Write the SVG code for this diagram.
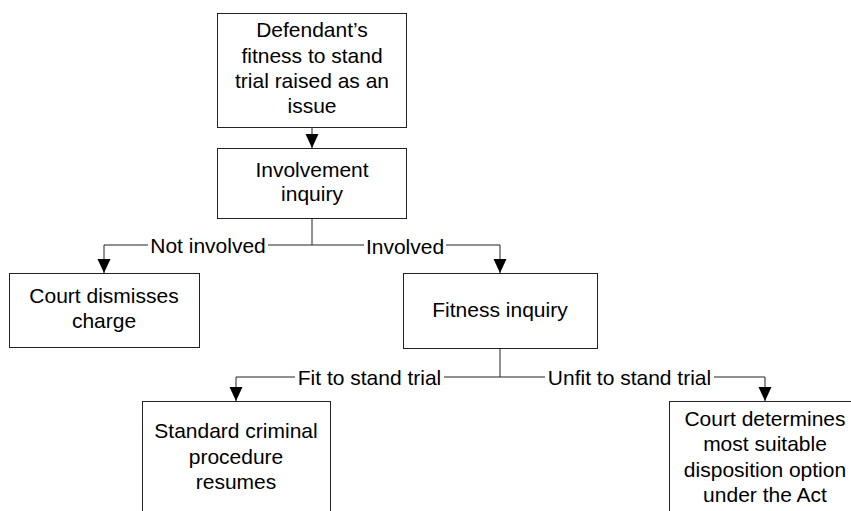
<svg xmlns="http://www.w3.org/2000/svg" width="851" height="511" viewBox="0 0 851 511">
<defs>
<style>
.box{fill:#fff;stroke:#222;stroke-width:1}
.t{font-family:"Liberation Sans",Arial,sans-serif;font-size:21px;fill:#000;text-anchor:middle}
.ln{fill:none;stroke:#222;stroke-width:1}
.lb{fill:#fff;stroke:none}
</style>
<marker id="ah" markerWidth="14" markerHeight="14" refX="14" refY="7" orient="auto" markerUnits="userSpaceOnUse" viewBox="0 0 14 14">
<path d="M0,0.5 L14,7 L0,13.5 Z" fill="#000"/>
</marker>
</defs>
<rect width="851" height="511" fill="#fff"/>
<g id="connectors">
<path class="ln" d="M312,127 V148" marker-end="url(#ah)"/>
<path class="ln" d="M312,218 V245 H104 V273" marker-end="url(#ah)"/>
<path class="ln" d="M312,245 H500 V273" marker-end="url(#ah)"/>
<path class="ln" d="M500,348 V377 H236 V401" marker-end="url(#ah)"/>
<path class="ln" d="M500,377 H765 V401" marker-end="url(#ah)"/>
<rect class="lb" x="148" y="236" width="120" height="20"/>
<text class="t" x="208" y="252.5">Not involved</text>
<rect class="lb" x="364" y="237" width="82" height="20"/>
<text class="t" x="405" y="253.5">Involved</text>
<rect class="lb" x="295" y="368" width="149" height="20"/>
<text class="t" x="369.5" y="384.5">Fit to stand trial</text>
<rect class="lb" x="545" y="368" width="169" height="20"/>
<text class="t" x="629.5" y="384.5">Unfit to stand trial</text>
</g>
<g id="n1">
<rect class="box" x="217.5" y="13.5" width="189" height="114"/>
<text class="t" x="312" y="37">Defendant’s</text>
<text class="t" x="312" y="63">fitness to stand</text>
<text class="t" x="312" y="88">trial raised as an</text>
<text class="t" x="312" y="113">issue</text>
</g>
<g id="n2">
<rect class="box" x="217.5" y="148.5" width="189" height="70"/>
<text class="t" x="312" y="177">Involvement</text>
<text class="t" x="312" y="201">inquiry</text>
</g>
<g id="n3">
<rect class="box" x="9.5" y="273.5" width="190" height="74"/>
<text class="t" x="104" y="303">Court dismisses</text>
<text class="t" x="104" y="328">charge</text>
</g>
<g id="n4">
<rect class="box" x="403.5" y="273.5" width="194" height="75"/>
<text class="t" x="500" y="317">Fitness inquiry</text>
</g>
<g id="n5">
<rect class="box" x="142.5" y="401.5" width="188" height="120"/>
<text class="t" x="236" y="438">Standard criminal</text>
<text class="t" x="236" y="464">procedure</text>
<text class="t" x="236" y="489">resumes</text>
</g>
<g id="n6">
<rect class="box" x="669.5" y="401.5" width="192" height="120"/>
<text class="t" x="765" y="426">Court determines</text>
<text class="t" x="765" y="451">most suitable</text>
<text class="t" x="765" y="477">disposition option</text>
<text class="t" x="765" y="502">under the Act</text>
</g>
</svg>
